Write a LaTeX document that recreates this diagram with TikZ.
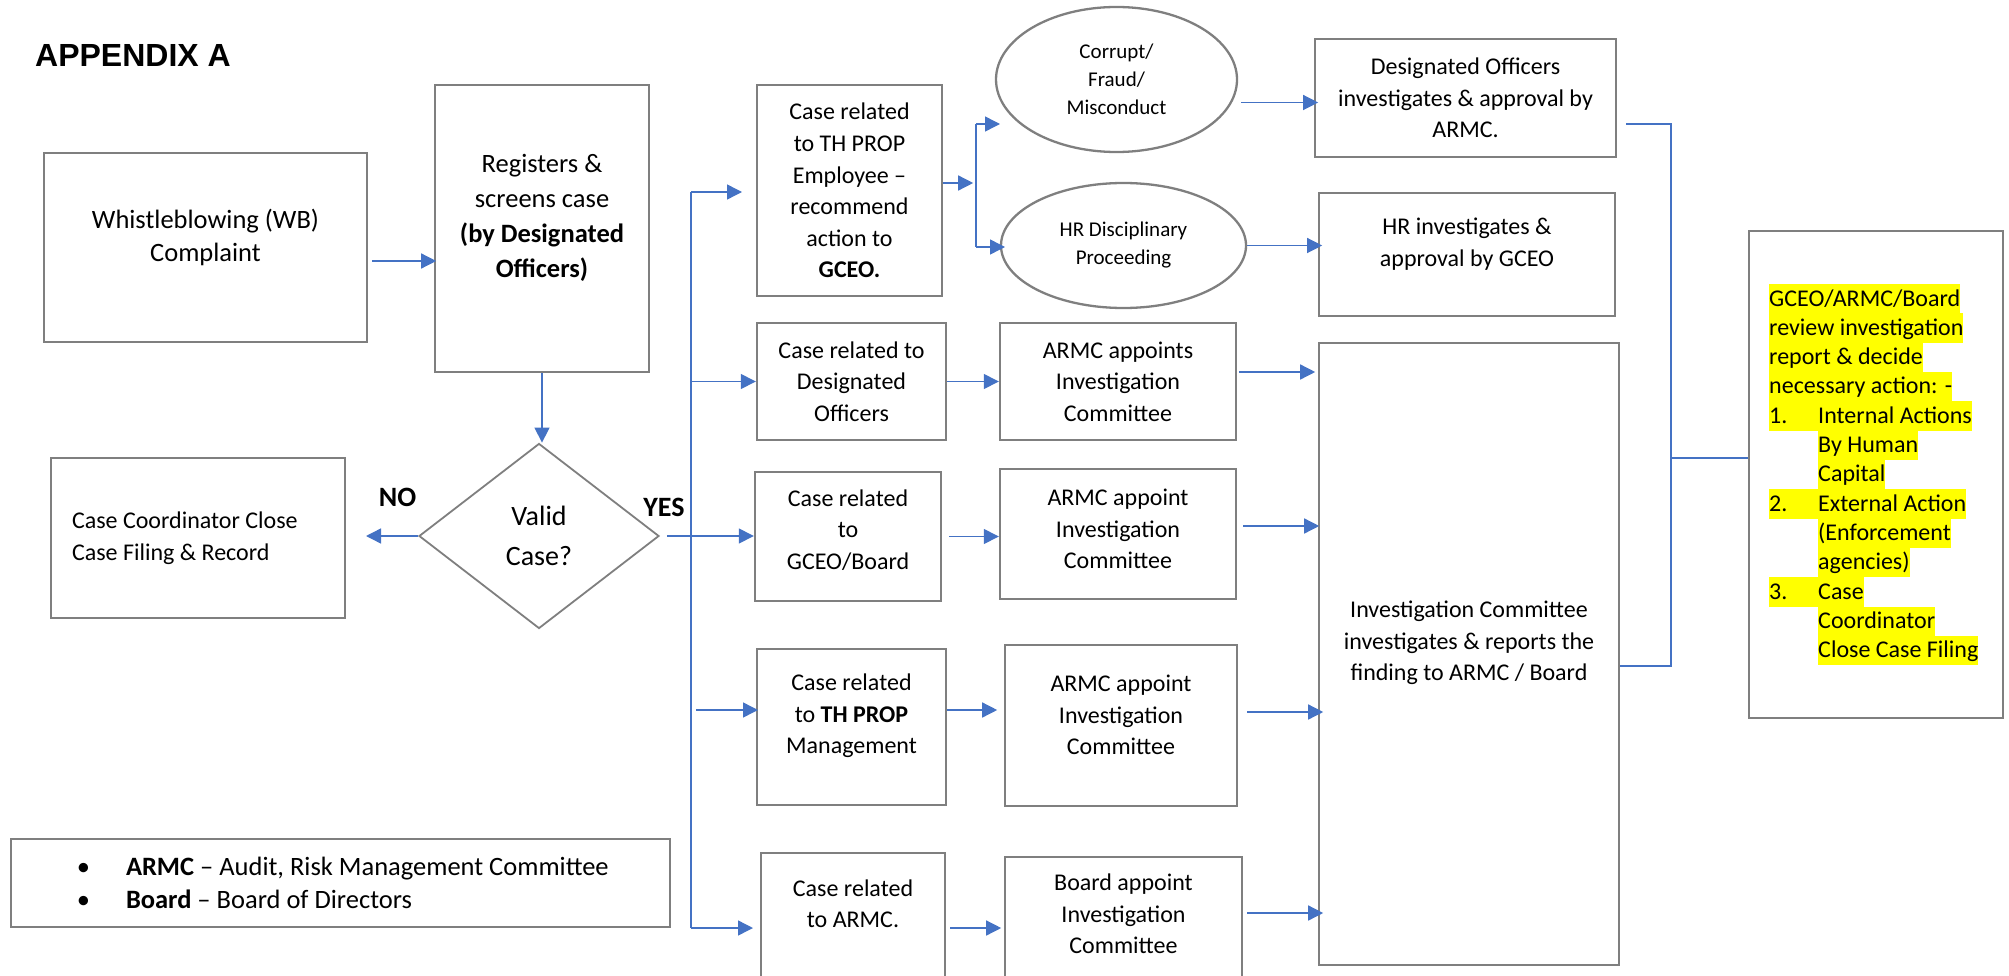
\documentclass[tikz,border=0pt]{standalone}
\usepackage{fontspec}
\setmainfont{Carlito}
\newfontfamily\headfont{Liberation Sans}
\usepackage{tikz}
\usetikzlibrary{arrows.meta,%
		shapes.geometric}

\definecolor{flowblue}{HTML}{4472C4}
\definecolor{framegray}{HTML}{7F7F7F}
\definecolor{markyellow}{HTML}{FFFF00}

\tikzset{
	wtext/.style={align=center, inner sep=0pt},
	wbox/.style={wtext, draw=framegray, line width=2.4pt},
	wbubble/.style={wtext, ellipse, draw=framegray, line width=2.3pt, font=\fontsize{21}{28}\selectfont},
	wdiamond/.style={wtext, diamond, aspect=1.3, draw=framegray, line width=1.8pt, font=\fontsize{28}{40}\selectfont},
	flow/.style={draw=flowblue, line width=1.4pt, -{Triangle[length=15pt,width=15pt]}},
	wire/.style={draw=flowblue, line width=1.4pt},
	hilite/.style={fill=markyellow, inner sep=0pt, anchor=base west, text height=22pt, text depth=7.33pt}
}

\begin{document}
\begin{tikzpicture}[x=1pt,y=-1pt]
\pgfmathsetmacro{\rowgap}{29.33}

\useasboundingbox (0,0) rectangle (2009,976);
\clip (0,0) rectangle (2009,976);

\begin{scope}[font=\fontsize{24}{31.5}\selectfont]

\node[anchor=base west, inner sep=0pt, font=\headfont\bfseries\fontsize{32}{38}\selectfont] (title) at (35,67) {APPENDIX A};

% intake and screening
\node[wbox, minimum width=323, minimum height=189] (wb) at (205.5,247.5) {};
\node[wtext, font=\fontsize{26.5}{33}\selectfont] (wbTxt) at (205.5,237) {Whistleblowing (WB)\\Complaint};
\node[wbox, minimum width=214, minimum height=287] (reg) at (542,228.5) {};
\node[wtext, font=\fontsize{26.5}{35}\selectfont] (regTxt) at (542,218) {Registers \&\\screens case\\\textbf{(by Designated}\\\textbf{Officers)}};
\node[wdiamond, minimum width=240, minimum height=185] (valid) at (539,536) {Valid\\Case?};
\node[wbox, minimum width=294, minimum height=160, align=flush left, text width=252pt] (close) at (198,538) {Case Coordinator Close\\Case Filing \& Record};
\node[inner sep=0pt, font=\bfseries\fontsize{28}{34}\selectfont] (lblNo) at (397.5,497) {NO};
\node[inner sep=0pt, font=\bfseries\fontsize{28}{34}\selectfont] (lblYes) at (664,507) {YES};

\node[wbox, minimum width=659, minimum height=88, align=flush left, text width=659pt, font=\fontsize{26.5}{33.5}\selectfont] (legend) at (340.5,883)
	{\hspace*{66pt}\makebox[49pt][l]{\textbullet}\textbf{ARMC} – Audit, Risk Management Committee\\
	 \hspace*{66pt}\makebox[49pt][l]{\textbullet}\textbf{Board} – Board of Directors};

% case categories
\node[wbox, minimum width=185, minimum height=211] (emp) at (849.5,190.5) {Case related\\to TH PROP\\Employee –\\recommend\\action to\\\textbf{GCEO.}};
\node[wbox, minimum width=189, minimum height=117] (desig) at (851.5,381.5) {Case related to\\Designated\\Officers};
\node[wbox, minimum width=186, minimum height=129] (gceo) at (848,536.5) {};
\node[wtext] (gceoTxt) at (848,530) {Case related\\to\\GCEO/Board};
\node[wbox, minimum width=189, minimum height=156] (mgmt) at (851.5,727) {};
\node[wtext] (mgmtTxt) at (851.5,716) {Case related\\to \textbf{TH PROP}\\Management};
\node[wbox, minimum width=184, minimum height=200, anchor=north] (armc) at (853,852) {};
\node[wtext] (armcTxt) at (853,904) {Case related\\to ARMC.};

% who investigates
\node[wbubble, minimum width=241, minimum height=145] (corrupt) at (1116.5,79.5) {Corrupt/\\Fraud/\\Misconduct};
\node[wbubble, minimum width=245, minimum height=125] (hrdisc) at (1123.5,245.5) {HR Disciplinary\\Proceeding};
\node[wbox, minimum width=236, minimum height=117] (appDes) at (1118,381.5) {ARMC appoints\\Investigation\\Committee};
\node[wbox, minimum width=236, minimum height=130] (appGceo) at (1118,534) {};
\node[wtext] (appGceoTxt) at (1118,529) {ARMC appoint\\Investigation\\Committee};
\node[wbox, minimum width=232, minimum height=161] (appMgmt) at (1121,725.5) {};
\node[wtext] (appMgmtTxt) at (1121,715) {ARMC appoint\\Investigation\\Committee};
\node[wbox, minimum width=237, minimum height=200, anchor=north] (appArmc) at (1123.5,856) {};
\node[wtext] (appArmcTxt) at (1123.5,914) {Board appoint\\Investigation\\Committee};

\node[wbox, minimum width=301, minimum height=118] (doInv) at (1465.5,98) {Designated Officers\\investigates \& approval by\\ARMC.};
\node[wbox, minimum width=296, minimum height=123] (hrInv) at (1467,254.5) {};
\node[wtext] (hrInvTxt) at (1467,244) {HR investigates \&\\approval by GCEO};
\node[wbox, minimum width=300, minimum height=622] (icInv) at (1469,654) {};
\node[wtext] (icInvTxt) at (1469,643) {Investigation Committee\\investigates \& reports the\\finding to ARMC / Board};

% decision box
\node[wbox, minimum width=254, minimum height=487] (review) at (1876,474.5) {};
\foreach \dx/\entry [count=\i from 0] in {0/{GCEO/ARMC/Board}, 0/{review investigation}, 0/{report \& decide}, 0/{necessary action: -},
		0/{\makebox[49pt][l]{1.}Internal Actions}, 49/{By Human}, 49/{Capital},
		0/{\makebox[49pt][l]{2.}External Action}, 49/{(Enforcement}, 49/{agencies)},
		0/{\makebox[49pt][l]{3.}Case}, 49/{Coordinator}, 49/{Close Case Filing}}
	\node[hilite] (rv\i) at ({1769+\dx},{306+\rowgap*\i}) {\entry};

% connectors
\coordinate (noEnd) at (366,536);
\coordinate (tTop) at (691,192);
\coordinate (tBot) at (691,928);
\coordinate (sTop) at (976,124);
\coordinate (sBot) at (976,247);
\coordinate (merge) at (1671,458);

\draw[flow] ([shift={(4,13.5)}]wb.east) -- ++(64,0);
\draw[flow] (reg.south) -- (reg.south |- valid.north);
\draw[flow] (valid.west) -- (noEnd);
\draw[flow] ([shift={(7,0)}]valid.east) -- (gceo.west |- valid.east);

\draw[wire] (tTop) -- (tBot);
\draw[flow] (tTop) -- ++(51,0);
\draw[flow] (tTop |- desig.west) -- (desig.west);
\draw[flow] ([shift={(5,518)}]tTop) -- ++(62,0);
\draw[flow] (tBot) -- ++(62,0);

\draw[flow] ([shift={(0,-7.5)}]emp.east) -- ++(30,0);
\draw[wire] (sTop) -- (sBot);
\draw[flow] (sTop) -- ++(24,0);
\draw[flow] (sBot) -- ++(29,0);

\draw[flow] (desig.east) -- (appDes.west);
\draw[flow] ([shift={(7,0)}]gceo.east) -- (appGceo.west |- gceo.east);
\draw[flow] ([shift={(0,-17)}]mgmt.east) -- ++(50,0);
\draw[flow] ([shift={(4,76)}]armc.north east) -- ++(51,0);

\draw[flow] ([shift={(3,23)}]corrupt.east) -- ++(77,0);
\draw[flow] (hrdisc.east) -- ++(75,0);
\draw[flow] ([shift={(2,-9.5)}]appDes.east) -- ++(76,0);
\draw[flow] ([shift={(6,-8)}]appGceo.east) -- ++(76,0);
\draw[flow] ([shift={(9,-13.5)}]appMgmt.east) -- ++(76,0);
\draw[flow] ([shift={(4,57)}]appArmc.north east) -- ++(76,0);

\draw[wire] ([shift={(9,26)}]doInv.east) -| (merge) |- ([shift={(0,12)}]icInv.east);
\draw[wire] (merge) -- (review.west |- merge);

\end{scope}
\end{tikzpicture}
\end{document}
